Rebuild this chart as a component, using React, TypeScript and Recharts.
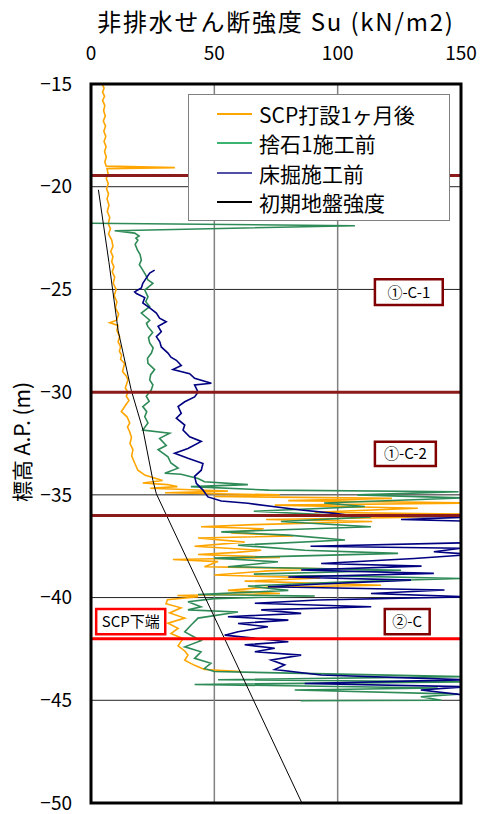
import React from 'react'
import {
  ScatterChart,
  Scatter,
  XAxis,
  YAxis,
  CartesianGrid,
  ReferenceLine,
  ReferenceArea,
} from 'recharts'

type Pt = { su: number; el: number }
const pts = (rows: number[][]): Pt[] => rows.map(([su, el]) => ({ su, el }))

const suTicks = [0, 50, 100, 150]
const elTicks = [-50, -45, -40, -35, -30, -25, -20, -15]
const layerBounds = [-19.45, -30, -36]
const scpBottom = -42

// SCP打設1ヶ月後
const scp1Month = pts([
  [4.5, -15.0], [5.3, -15.2], [4.7, -15.4], [5.5, -15.6], [4.7, -15.8], [5.6, -16.05],
  [5.1, -16.3], [5.8, -16.55], [5.0, -16.8], [5.9, -17.05], [5.2, -17.3], [6.0, -17.55],
  [5.3, -17.8], [6.1, -18.05], [5.5, -18.3], [6.2, -18.55], [5.6, -18.8], [6.2, -19.0],
  [34, -19.07], [6.5, -19.12], [6.9, -19.35], [6.2, -19.6], [7.0, -19.85], [6.3, -20.1],
  [7.1, -20.35], [6.5, -20.6], [7.3, -20.9], [6.6, -21.2], [7.6, -21.5], [7.0, -21.8],
  [7.9, -22.05], [7.1, -22.3], [8.4, -22.6], [8.9, -22.9], [8.0, -23.15], [8.9, -23.4],
  [8.4, -23.65], [9.3, -23.9], [8.6, -24.15], [9.6, -24.4], [9.0, -24.7], [10.2, -25.0],
  [9.4, -25.3], [10.5, -25.6], [9.9, -25.9], [11.2, -26.2], [10.4, -26.5], [7.6, -26.62],
  [10.9, -26.75], [10.5, -27.0], [11.6, -27.3], [11.0, -27.55], [12.0, -27.8], [11.5, -28.0],
  [12.4, -28.2], [12.0, -28.4], [13.6, -28.6], [12.8, -29.0], [14.2, -29.2], [15.0, -29.4],
  [13.9, -29.8], [15.0, -30.0], [14.3, -30.2], [15.4, -30.4], [14.2, -30.6], [12.3, -30.95],
  [14.6, -31.2], [15.7, -31.5], [14.8, -31.7], [15.6, -31.9], [16.4, -32.2], [15.8, -32.5],
  [17.0, -32.8], [16.5, -33.1], [17.7, -33.45], [19.0, -33.8], [22.0, -34.05], [29.0, -34.3],
  [21.0, -34.42], [31.0, -34.5], [35.0, -34.6], [24.0, -34.68], [40.5, -34.75], [55.5, -34.82],
  [30.0, -34.9], [76.5, -35.0], [50.0, -35.08], [122, -35.17], [80, -35.28], [158, -35.4],
  [74.5, -35.5], [132.5, -35.65], [90.7, -35.85], [160, -35.95], [125.7, -36.1], [71, -36.2],
  [114, -36.3], [66, -36.45], [44.6, -36.55], [70, -36.65], [56.8, -36.85], [82, -37.0],
  [43.4, -37.1], [62.3, -37.3], [42, -37.5], [69, -37.7], [59, -37.8], [43.4, -37.9],
  [76.6, -38.05], [33.2, -38.15], [51.5, -38.25], [46, -38.5], [95.6, -38.6], [71.7, -38.7],
  [50, -38.9], [93, -39.05], [62.3, -39.2], [117.6, -39.4], [71, -39.5], [55.5, -39.65],
  [76.6, -39.8], [35, -39.9], [43.4, -39.96], [31, -40.1], [30.4, -40.3], [36.5, -40.5],
  [31.9, -40.75], [38, -41.0], [31.2, -41.25], [35.3, -41.5], [32.4, -41.75], [37.3, -42.0],
  [35.3, -42.35], [38, -42.6], [39.3, -42.8], [38, -43.05], [42, -43.3], [46, -43.5],
  [60.8, -43.6],
])

// 捨石1施工前
const beforeRubble = pts([
  [0, -21.78], [107, -21.9], [9.6, -22.14], [17.7, -22.26], [19.5, -22.4], [18.2, -22.5],
  [19, -22.6], [17.9, -22.8], [18.8, -23.08], [19.9, -23.3], [20.4, -23.57], [19.6, -23.8],
  [21, -24.06], [22.2, -24.3], [23.1, -24.54], [25.1, -24.7], [21.8, -25.03], [23.1, -25.36],
  [22.2, -25.6], [23.8, -25.84], [20.4, -26.15], [23.8, -26.5], [22.5, -26.65], [23, -26.8],
  [25, -27.1], [23.3, -27.35], [23.8, -27.6], [25.2, -27.85], [24.5, -28.1], [22.9, -28.35],
  [23.1, -28.6], [25.8, -28.9], [24.2, -29.15], [23.8, -29.4], [25.1, -29.65], [24.4, -29.9],
  [22.4, -30.2], [23.6, -30.45], [21, -30.7], [22.6, -30.95], [21.8, -31.2], [23.1, -31.5],
  [21, -31.85], [31.9, -32.0], [27.8, -32.25], [30.5, -32.6], [27.2, -32.8], [31.2, -33.15],
  [32.4, -33.45], [35.3, -33.7], [29.9, -33.95], [36.5, -34.0], [43.4, -34.2], [46, -34.36],
  [63.6, -34.5], [40.5, -34.6], [72, -34.77], [149, -34.85], [108, -35.0], [151, -35.15],
  [94.5, -35.4], [111, -35.57], [66, -35.8], [113.5, -36.07], [77, -36.3], [113.5, -36.55],
  [52.8, -36.8], [80, -36.96], [103, -37.2], [59.6, -37.45], [86.6, -37.7], [124.5, -37.85],
  [50, -38.08], [75.8, -38.26], [55.5, -38.5], [125.7, -38.67], [66, -38.86], [150, -39.07],
  [104, -39.23], [63.6, -39.44], [80, -39.65], [43.4, -39.85], [90.7, -39.92], [50, -40.05],
  [39.3, -40.2], [44.6, -40.45], [39.3, -40.6], [59.6, -40.7], [43.4, -41.0], [40.5, -41.35],
  [38, -41.67], [44.6, -42.1], [38, -42.4], [44.6, -42.64], [42, -42.96], [48.6, -43.2],
  [46, -43.45], [50, -43.6], [150, -43.85], [51.5, -44.0], [155, -44.1], [42, -44.23],
  [140.6, -44.4], [82.6, -44.5], [148.8, -44.7], [133.7, -44.83], [142, -45.0], [85, -45.02],
])

// 床掘施工前
const beforeExcavation = pts([
  [25.8, -24.06], [23.8, -24.2], [22.4, -24.45], [21, -24.7], [20.4, -24.93], [17.7, -25.12],
  [18.4, -25.2], [21.8, -25.4], [21, -25.66], [23.8, -25.9], [26.5, -26.15], [27.8, -26.4],
  [30.5, -26.57], [27.2, -26.8], [28.5, -27.06], [26.5, -27.3], [27.9, -27.55], [28.5, -27.8],
  [31.2, -28.1], [32.4, -28.3], [34.6, -28.45], [36.6, -28.7], [33.2, -28.9], [40, -29.1],
  [42, -29.33], [48.8, -29.57], [42, -29.65], [43.4, -30.0], [42, -30.23], [38, -30.47],
  [35.3, -30.7], [36.6, -31.03], [34.6, -31.27], [38, -31.6], [37.3, -31.85], [40, -32.17],
  [44.7, -32.4], [39.3, -32.74], [33.9, -32.98], [39.3, -33.22], [45.4, -33.47], [44.7, -33.8],
  [42, -34.1], [42.7, -34.44], [45.4, -34.77], [47.4, -35.1], [52.8, -35.3], [63.6, -35.41],
  [74.5, -35.58], [85.2, -35.74], [98.8, -35.9], [104, -35.98], [150, -36.1], [125.7, -36.2],
  [160, -36.3], [170, -36.8], [165, -37.3], [89, -37.5], [150, -37.6], [139, -37.77],
  [155, -37.9], [131, -38.1], [93.3, -38.34], [134, -38.47], [85.2, -38.66], [139, -38.82],
  [80, -39.0], [129.7, -39.15], [93, -39.34], [71.7, -39.47], [143.3, -39.63], [113.5, -39.8],
  [152, -39.96], [92, -40.12], [66.4, -40.28], [113.6, -40.45], [69, -40.6], [85.2, -40.77],
  [55.5, -40.93], [80, -41.1], [59.6, -41.26], [71.7, -41.42], [59.6, -41.66], [54.2, -41.83],
  [80, -42.15], [62.3, -42.3], [74.5, -42.47], [66.4, -42.64], [85.2, -42.8], [73, -43.04],
  [78.5, -43.28], [74.5, -43.5], [93.3, -43.77], [152, -44.0], [86.6, -44.18], [152, -44.34],
  [133.7, -44.5], [152, -44.75],
])

// 初期地盤強度
const initialStrength = pts([
  [3.0, -20.15], [7.3, -23.7], [11.0, -27.0], [16.3, -29.9], [21.1, -31.85],
  [25.1, -34.3], [26.5, -34.95], [85.5, -50],
])

const series = [
  { name: 'SCP打設1ヶ月後', data: scp1Month, color: '#ffa500', width: 1.6 },
  { name: '捨石1施工前', data: beforeRubble, color: '#2e8b57', width: 1.6 },
  { name: '床掘施工前', data: beforeExcavation, color: '#000080', width: 1.6 },
  { name: '初期地盤強度', data: initialStrength, color: '#000000', width: 1 },
]

const legendColors = ['#ffa500', '#3cb371', '#5050a8', '#000000']

const layerLabels = [
  { text: '①-C-1', x1: 115.1, x2: 142.6, y1: -25.76, y2: -24.51, color: '#800000' },
  { text: '①-C-2', x1: 115.1, x2: 139.8, y1: -33.6, y2: -32.41, color: '#800000' },
  { text: '②-C', x1: 119.1, x2: 137.3, y1: -41.78, y2: -40.56, color: '#800000' },
  { text: 'SCP下端', x1: 2.1, x2: 30.1, y1: -41.78, y2: -40.56, color: '#ff0000' },
]

const font = "'Noto Sans CJK JP', 'Noto Sans', sans-serif"
const minus = (v: number) => String(v).replace('-', '\u2212')

export default function App() {
  return (
    <div style={{ position: 'absolute', left: 0, top: 0, width: 480, height: 814, background: '#fff', fontFamily: font }}>
      <div
        style={{
          position: 'absolute', left: 91, width: 370, top: 6, textAlign: 'center',
          fontSize: 24, lineHeight: '30px', color: '#000', whiteSpace: 'nowrap', letterSpacing: 1.8,
        }}
      >
        非排水せん断強度 Su (kN/m2)
      </div>
      <div
        style={{
          position: 'absolute', left: 21, top: 442, transform: 'translate(-50%, -50%) rotate(-90deg)',
          fontSize: 21, whiteSpace: 'nowrap', color: '#000',
        }}
      >
        標高 A.P. (m)
      </div>

      <ScatterChart
        width={480}
        height={814}
        margin={{ top: 54, right: 19, bottom: 11, left: 0 }}
        style={{ fontFamily: font }}
      >
        <CartesianGrid vertical={false} stroke="#222" strokeWidth={1} />
        <CartesianGrid horizontal={false} stroke="#808080" strokeWidth={1.5} />
        <XAxis
          type="number"
          dataKey="su"
          orientation="top"
          domain={[0, 150]}
          ticks={suTicks}
          allowDataOverflow
          height={30}
          tickLine={false}
          tickSize={0}
          tickMargin={24}
          axisLine={false}
          tick={{ fontSize: 19, fill: '#000' }}
        />
        <YAxis
          type="number"
          dataKey="el"
          domain={[-50, -15]}
          ticks={elTicks}
          allowDataOverflow
          width={91}
          tickLine={false}
          tickSize={0}
          tickMargin={19}
          axisLine={false}
          tickFormatter={minus}
          tick={{ fontSize: 19, fill: '#000' }}
        />
        {series.map((s) => (
          <Scatter
            key={s.name}
            name={s.name}
            data={s.data}
            line={{ stroke: s.color, strokeWidth: s.width }}
            lineType="joint"
            shape={() => <g />}
            isAnimationActive={false}
          />
        ))}
        {layerBounds.map((y) => (
          <ReferenceLine key={y} y={y} stroke="#8b1a1a" strokeWidth={3} zIndex={700} />
        ))}
        <ReferenceLine y={scpBottom} stroke="#ff0000" strokeWidth={3} zIndex={700} />
        {layerLabels.map((l) => (
          <ReferenceArea
            key={l.text}
            x1={l.x1}
            x2={l.x2}
            y1={l.y1}
            y2={l.y2}
            fill="#fff"
            fillOpacity={1}
            stroke={l.color}
            strokeWidth={2.5}
            zIndex={800}
            label={{ value: l.text, position: 'center', fontSize: 15, fill: '#000' }}
          />
        ))}
        <ReferenceArea
          x1={0}
          x2={150}
          y1={-50}
          y2={-15}
          fill="none"
          stroke="#000"
          strokeWidth={3}
          zIndex={900}
        />
      </ScatterChart>

      <div
        style={{
          position: 'absolute', left: 188, top: 94, width: 262, height: 127, boxSizing: 'border-box',
          border: '1.5px solid #808080', background: '#fff', paddingTop: 4,
        }}
      >
        {series.map((s, i) => (
          <div key={s.name} style={{ display: 'flex', alignItems: 'center', height: 29.5 }}>
            <div style={{ marginLeft: 28, width: 35, height: 2, background: legendColors[i] }} />
            <span style={{ marginLeft: 7, fontSize: 21, color: '#000', whiteSpace: 'nowrap' }}>{s.name}</span>
          </div>
        ))}
      </div>
    </div>
  )
}
